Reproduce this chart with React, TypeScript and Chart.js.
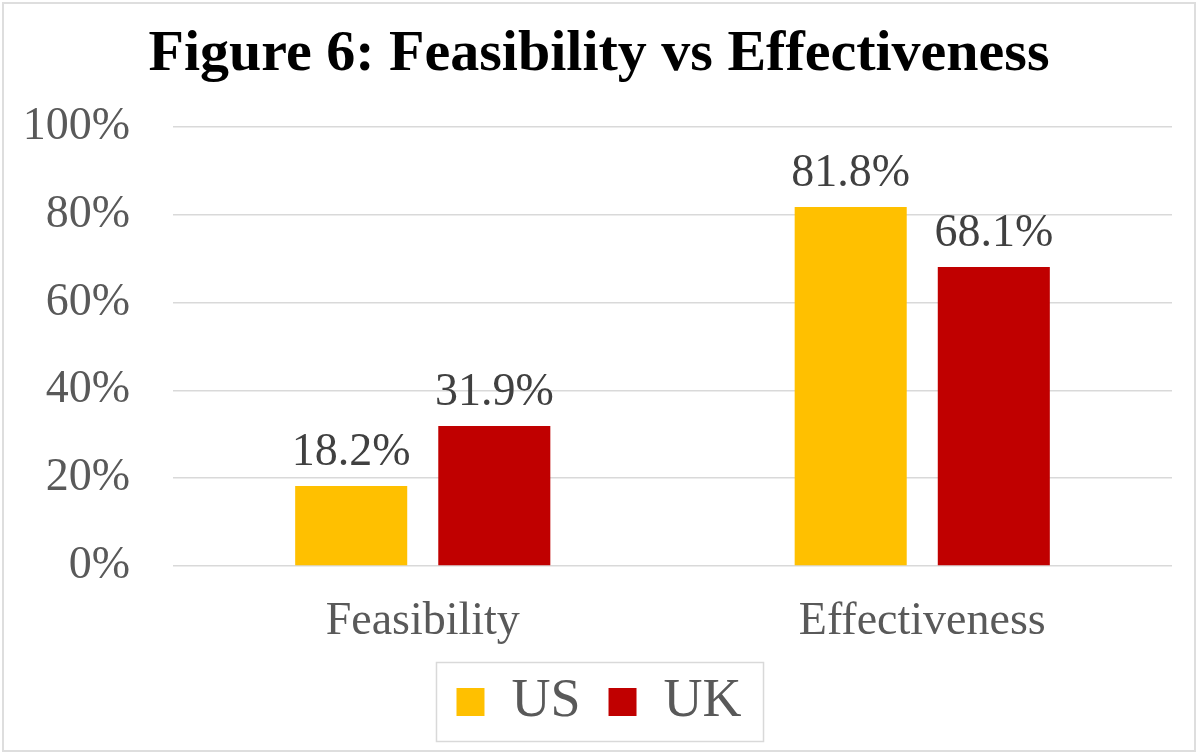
import React, { useEffect, useRef } from "react";
import { Chart, registerables } from "chart.js";

Chart.register(...registerables);

const categories = ["Feasibility", "Effectiveness"];
const seriesNames = ["US", "UK"];
const usValues = [18.2, 81.8];
const ukValues = [31.9, 68.1];
const seriesColors = ["#FFC000", "#C00000"];
const yTicks = [0, 20, 40, 60, 80, 100];
const titleText = "Figure 6: Feasibility vs Effectiveness";

const SERIF = "'Liberation Serif', 'Times New Roman', serif";

const dataLabelPlugin = {
  id: "dataLabels",
  afterDatasetsDraw(chart: any) {
    const ctx = chart.ctx;
    ctx.save();
    ctx.font = `46px ${SERIF}`;
    ctx.fillStyle = "#404040";
    ctx.textAlign = "center";
    ctx.textBaseline = "alphabetic";
    chart.data.datasets.forEach((ds: any, di: number) => {
      const meta = chart.getDatasetMeta(di);
      meta.data.forEach((el: any, i: number) => {
        const v = ds.data[i];
        ctx.fillText(`${v.toFixed(1)}%`, el.x, el.y - 21);
      });
    });
    ctx.restore();
  },
};

const framePlugin = {
  id: "frames",
  beforeDraw(chart: any) {
    const ctx = chart.ctx;
    ctx.save();
    ctx.fillStyle = "#ffffff";
    ctx.fillRect(0, 0, chart.width, chart.height);
    ctx.strokeStyle = "#dedede";
    ctx.lineWidth = 2;
    ctx.strokeRect(3, 3, chart.width - 6, chart.height - 6);
    ctx.restore();
  },
  afterDraw(chart: any) {
    const lg = chart.legend;
    if (!lg || !lg.legendHitBoxes || !lg.legendHitBoxes.length) return;
    const hb = lg.legendHitBoxes;
    const first = hb[0];
    const last = hb[hb.length - 1];
    const left = first.left - 20;
    const right = last.left + last.width + 22;
    const cy = first.top + first.height / 2;
    const ctx = chart.ctx;
    ctx.save();
    ctx.strokeStyle = "#d9d9d9";
    ctx.lineWidth = 1.5;
    ctx.strokeRect(left, cy - 39.5, right - left, 79);
    ctx.restore();
  },
};

export default function App() {
  const canvasRef = useRef<HTMLCanvasElement | null>(null);

  useEffect(() => {
    document.body.style.margin = "0";
    const canvas = canvasRef.current;
    if (!canvas) return;
    const chart = new Chart(canvas, {
      type: "bar",
      data: {
        labels: categories,
        datasets: [
          {
            label: seriesNames[0],
            data: usValues,
            backgroundColor: seriesColors[0],
            categoryPercentage: 0.573,
            barPercentage: 0.783,
          },
          {
            label: seriesNames[1],
            data: ukValues,
            backgroundColor: seriesColors[1],
            categoryPercentage: 0.573,
            barPercentage: 0.783,
          },
        ],
      },
      options: {
        animation: false,
        responsive: false,
        maintainAspectRatio: false,
        devicePixelRatio: 1,
        layout: { padding: { top: 0, left: 26, right: 26, bottom: 15 } },
        plugins: {
          title: {
            display: true,
            text: titleText,
            color: "#000000",
            font: { family: SERIF, size: 58, weight: "bold" },
            padding: { top: 20.6, bottom: 36.8 },
          },
          legend: {
            display: true,
            position: "bottom",
            labels: {
              boxWidth: 28,
              boxHeight: 28,
              padding: 28,
              color: "#595959",
              font: { family: SERIF, size: 54 },
            },
          },
          tooltip: { enabled: false },
        },
        scales: {
          x: {
            grid: { display: false, drawTicks: false },
            border: { display: false },
            ticks: {
              color: "#595959",
              font: { family: SERIF, size: 46 },
              padding: 28,
            },
            afterFit(scale: any) {
              scale.height = 81;
            },
          },
          y: {
            min: 0,
            max: 100,
            grid: { color: "#d9d9d9", lineWidth: 1.5, drawTicks: false },
            border: { display: false },
            afterBuildTicks(scale: any) {
              scale.ticks = yTicks.map((v) => ({ value: v }));
            },
            ticks: {
              color: "#595959",
              font: { family: SERIF, size: 46 },
              padding: 43,
              callback: (v: any) => `${v}%`,
            },
            afterFit(scale: any) {
              scale.width = 147;
            },
          },
        },
      },
      plugins: [dataLabelPlugin, framePlugin],
    });
    return () => chart.destroy();
  }, []);

  return (
    <div style={{ position: "absolute", left: 0, top: 0, width: 1198, height: 754, overflow: "hidden", background: "#fff" }}>
      <canvas ref={canvasRef} width={1198} height={754} style={{ width: 1198, height: 754, display: "block" }} />
    </div>
  );
}
